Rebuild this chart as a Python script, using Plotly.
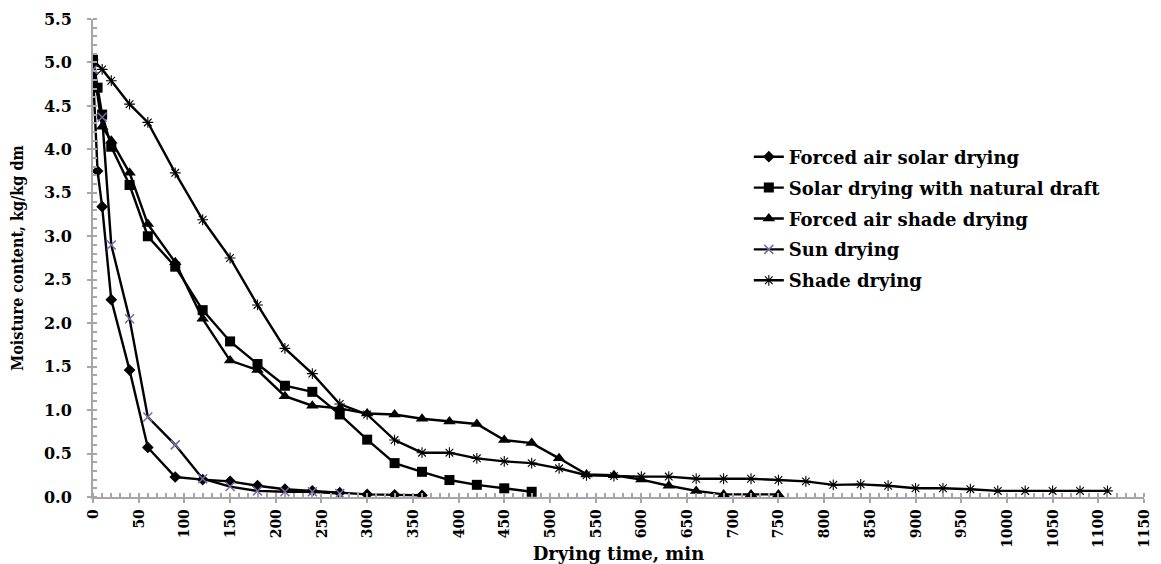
import plotly.graph_objects as go

# Drying time (min) per series
t_fasd = [0, 5, 10, 20, 40, 60, 90, 120, 150, 180, 210, 240, 270, 300, 330, 360]
m_fasd = [4.87, 3.75, 3.34, 2.27, 1.46, 0.57, 0.23, 0.20, 0.18, 0.13, 0.09, 0.07, 0.05, 0.03, 0.025, 0.02]

t_sdnd = [0, 5, 10, 20, 40, 60, 90, 120, 150, 180, 210, 240, 270, 300, 330, 360, 390, 420, 450, 480]
m_sdnd = [5.03, 4.71, 4.40, 4.03, 3.59, 3.00, 2.65, 2.15, 1.79, 1.53, 1.28, 1.21, 0.95, 0.66, 0.39,
          0.29, 0.195, 0.14, 0.10, 0.06]

t_fashd = [0, 10, 20, 40, 60, 90, 120, 150, 180, 210, 240, 270, 300, 330, 360, 390, 420, 450, 480,
           510, 540, 570, 600, 630, 660, 690, 720, 750]
m_fashd = [4.98, 4.26, 4.10, 3.73, 3.14, 2.70, 2.05, 1.57, 1.46, 1.16, 1.05, 1.02, 0.96, 0.95, 0.90,
           0.87, 0.84, 0.655, 0.62, 0.445, 0.26, 0.25, 0.20, 0.13, 0.07, 0.03, 0.03, 0.03]

t_sun = [0, 10, 20, 40, 60, 90, 120, 150, 180, 210, 240, 270]
m_sun = [4.92, 4.37, 2.90, 2.05, 0.92, 0.60, 0.21, 0.12, 0.07, 0.06, 0.06, 0.04]

t_shade = [0, 10, 20, 40, 60, 90, 120, 150, 180, 210, 240, 270, 300, 330, 360, 390, 420, 450, 480,
           510, 540, 570, 600, 630, 660, 690, 720, 750, 780, 810, 840, 870, 900, 930, 960, 990,
           1020, 1050, 1080, 1110]
m_shade = [5.03, 4.92, 4.79, 4.52, 4.31, 3.73, 3.19, 2.75, 2.21, 1.71, 1.42, 1.07, 0.95, 0.655, 0.51,
           0.51, 0.445, 0.41, 0.39, 0.33, 0.25, 0.24, 0.235, 0.235, 0.21, 0.21, 0.21, 0.195, 0.18,
           0.14, 0.145, 0.13, 0.10, 0.10, 0.09, 0.07, 0.07, 0.07, 0.07, 0.07]

names = ["Forced air solar drying", "Solar drying with natural draft", "Forced air shade drying",
         "Sun drying", "Shade drying"]

WIDE = "DejaVu Serif"
COND = "DejaVu Serif Condensed"
AX = "#a6a6a6"

fig = go.Figure()
specs = [
    (t_fasd, m_fasd, dict(symbol="diamond", size=9, color="black")),
    (t_sdnd, m_sdnd, dict(symbol="square", size=10, color="black")),
    (t_fashd, m_fashd, dict(symbol="triangle-up", size=11, color="black")),
    (t_sun, m_sun, dict(symbol="x-thin-open", size=9, color="#7b68a6", line=dict(width=1.5, color="#7b68a6"))),
    (t_shade, m_shade, dict(symbol="asterisk-open", size=9, color="black", line=dict(width=1.1, color="black"))),
]
for i, (t, m, mk) in enumerate(specs):
    fig.add_trace(go.Scatter(x=t, y=m, mode="lines+markers", name=names[i], legendgroup=str(i),
                             line=dict(color="black", width=2.4), marker=mk))

fig.update_layout(
    width=1153, height=556,
    margin=dict(l=85, r=17, t=10.5, b=67, autoexpand=False),
    plot_bgcolor="white", paper_bgcolor="white",
    font=dict(family=WIDE, color="black"),
    showlegend=True,
    legend=dict(x=0.624, y=0.75, xanchor="left", yanchor="top", tracegroupgap=4.5,
                font=dict(family=WIDE, size=18, weight="bold", color="black"),
                bgcolor="rgba(0,0,0,0)"),
    xaxis=dict(range=[0, 1150], dtick=50, tick0=0, tickangle=-90, automargin=False,
               showline=True, linecolor=AX, linewidth=2, showgrid=False, zeroline=False,
               ticks="outside", ticklen=4, tickcolor=AX, tickwidth=2,
               minor=dict(dtick=10, ticks="inside", ticklen=4, tickcolor=AX, tickwidth=2),
               tickfont=dict(family=COND, size=15.5, weight="bold", color="black"),
               title=dict(text="Drying time, min", standoff=0,
                          font=dict(family=WIDE, size=18, weight="bold", color="black"))),
    yaxis=dict(range=[0, 5.5], dtick=0.5, tick0=0, tickformat=".1f", automargin=False,
               showline=True, linecolor=AX, linewidth=2, showgrid=False, zeroline=False,
               ticks="outside", ticklen=4, tickcolor=AX, tickwidth=2, ticklabelstandoff=12,
               minor=dict(dtick=0.1, ticks="inside", ticklen=4, tickcolor=AX, tickwidth=2),
               tickfont=dict(family=WIDE, size=16, weight="bold", color="black"),
               title=dict(text="Moisture content, kg/kg dm", standoff=16,
                          font=dict(family=COND, size=16, weight="bold", color="black"))),
)

fig.write_html("out.html")
